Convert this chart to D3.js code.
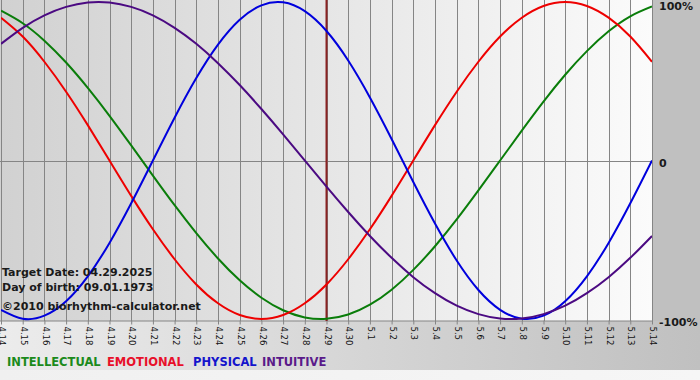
<!DOCTYPE html>
<html>
<head>
<meta charset="utf-8">
<script src="https://cdn.jsdelivr.net/npm/d3@7"></script>
<style>
  html, body { margin: 0; padding: 0; background: #f2f2f2; }
  svg { display: block; }
</style>
</head>
<body>
<svg id="chart" width="700" height="380"></svg>
<script>
// ---- data ----
const dates = ["4.14","4.15","4.16","4.17","4.18","4.19","4.20","4.21","4.22","4.23","4.24","4.25","4.26","4.27","4.28","4.29","4.30",
               "5.1","5.2","5.3","5.4","5.5","5.6","5.7","5.8","5.9","5.10","5.11","5.12","5.13","5.14"];
const intellectual = [94.5,86.6,75.6,61.8,45.8,28.2,9.5,-9.5,-28.2,-45.8,-61.8,-75.6,-86.6,-94.5,-99.0,-99.9,-97.2,
                      -91.0,-81.5,-69.0,-54.1,-37.2,-18.9,0,18.9,37.2,54.1,69.0,81.5,91.0,97.2];
const emotional    = [90.1,78.2,62.3,43.4,22.3,0,-22.3,-43.4,-62.3,-78.2,-90.1,-97.5,-100,-97.5,-90.1,-78.2,-62.3,
                      -43.4,-22.3,0,22.3,43.4,62.3,78.2,90.1,97.5,100,97.5,90.1,78.2,62.3];
const physical     = [-94.2,-99.8,-97.9,-88.8,-73.1,-52.0,-27.0,0,27.0,52.0,73.1,88.8,97.9,99.8,94.2,81.7,63.1,
                      39.8,13.6,-13.6,-39.8,-63.1,-81.7,-94.2,-99.8,-97.9,-88.8,-73.1,-52.0,-27.0,0];
const intuitive    = [73.6,83.7,91.6,96.9,99.7,99.7,96.9,91.6,83.7,73.6,61.4,47.6,32.5,16.5,0,-16.5,-32.5,
                      -47.6,-61.4,-73.6,-83.7,-91.6,-96.9,-99.7,-99.7,-96.9,-91.6,-83.7,-73.6,-61.4,-47.6];
const yTickValues = [100, 0, -100];
const yTickLabels = ["100%", "0", "-100%"];
const targetDay = "4.29";
const infoLines = ["Target Date: 04.29.2025", "Day of birth: 09.01.1973", "\u00a92010 biorhythm-calculator.net"];
const legendNames = ["INTELLECTUAL", "EMOTIONAL", "PHYSICAL", "INTUITIVE"];

// ---- layout ----
const svg = d3.select("#chart");
const W = 700, H = 380;
const plotL = 1, plotR = 652, plotT = 0, plotB = 321;

const x = d3.scalePoint().domain(dates).range([plotL, plotR]).padding(0);
const y = d3.scaleLinear().domain([-100, 100]).range([319, 2]);

const defs = svg.append("defs");
const gPlot = defs.append("linearGradient").attr("id", "gPlot").attr("x1", 0).attr("x2", 1).attr("y1", 0).attr("y2", 0);
gPlot.append("stop").attr("offset", 0).attr("stop-color", "#d1d1d1");
gPlot.append("stop").attr("offset", 1).attr("stop-color", "#fbfbfb");
const gBot = defs.append("linearGradient").attr("id", "gBot").attr("x1", 0).attr("x2", 1).attr("y1", 0).attr("y2", 0);
gBot.append("stop").attr("offset", 0).attr("stop-color", "#ececec");
gBot.append("stop").attr("offset", 1).attr("stop-color", "#c0c0c0");
const gFoot = defs.append("linearGradient").attr("id", "gFoot").attr("x1", 0).attr("x2", 1).attr("y1", 0).attr("y2", 0);
gFoot.append("stop").attr("offset", 0).attr("stop-color", "#f0f0f0");
gFoot.append("stop").attr("offset", 1).attr("stop-color", "#f6f6f6");
defs.append("clipPath").attr("id", "clipPlot").append("rect")
  .attr("x", plotL).attr("y", plotT).attr("width", plotR - plotL).attr("height", plotB - plotT);

// backgrounds
svg.append("rect").attr("x", 0).attr("y", 0).attr("width", W).attr("height", plotB).attr("fill", "#c0c0c0");
svg.append("rect").attr("x", 0).attr("y", plotB).attr("width", W).attr("height", 49).attr("fill", "url(#gBot)");
svg.append("rect").attr("x", 0).attr("y", 370).attr("width", W).attr("height", 10).attr("fill", "url(#gFoot)");
svg.append("rect").attr("x", 0).attr("y", plotT).attr("width", plotR).attr("height", plotB - plotT).attr("fill", "url(#gPlot)");

// vertical gridlines
const px = d => Math.round(x(d)) + 0.5;
svg.append("g").selectAll("line").data(dates).join("line")
  .attr("x1", px).attr("x2", px).attr("y1", plotT).attr("y2", plotB)
  .attr("stroke", "#858585").attr("stroke-width", 1);

// zero line
svg.append("line").attr("x1", 0).attr("x2", plotR + 0.5)
  .attr("y1", Math.round(y(0)) + 0.5).attr("y2", Math.round(y(0)) + 0.5)
  .attr("stroke", "#858585");

// bottom axis
const xAxis = d3.axisBottom(x).tickSizeInner(4).tickSizeOuter(0).tickPadding(2);
const ax = svg.append("g").attr("transform", `translate(0.5,${plotB - 0.5})`).call(xAxis);
ax.select(".domain").attr("stroke", "#858585").attr("d", `M${-1},0.5H${plotR}`);
ax.selectAll(".tick line").attr("stroke", "#858585").attr("transform", "translate(-0.5,0)");
ax.selectAll(".tick text")
  .attr("font-family", "DejaVu Sans, Verdana, sans-serif")
  .attr("font-size", 8.5)
  .attr("fill", "#111")
  .attr("text-anchor", "start")
  .attr("transform", "rotate(90)")
  .attr("x", 6).attr("y", 0).attr("dy", "0.33em");

// target day line
const tx = x(targetDay);
svg.append("line").attr("x1", tx).attr("x2", tx).attr("y1", plotT).attr("y2", plotB)
  .attr("stroke", "#8a2222").attr("stroke-width", 2);

// curves
const line = d3.line().x((v, i) => x(dates[i])).y(v => y(v)).curve(d3.curveNatural);
const series = [
  { name: "INTELLECTUAL", values: intellectual, color: "#0a7d0a" },
  { name: "EMOTIONAL", values: emotional, color: "#ee0000" },
  { name: "PHYSICAL", values: physical, color: "#0000dd" },
  { name: "INTUITIVE", values: intuitive, color: "#4b0a82" }
];
const gCurves = svg.append("g").attr("clip-path", "url(#clipPlot)");
gCurves.selectAll("path").data(series).join("path")
  .attr("d", s => line(s.values))
  .attr("fill", "none")
  .attr("stroke", s => s.color)
  .attr("stroke-width", 2);

// info text
const infoY = [276, 291, 310];
svg.append("g").selectAll("text").data(infoLines).join("text")
  .attr("x", 2).attr("y", (d, i) => infoY[i])
  .attr("font-family", "DejaVu Sans, Verdana, sans-serif")
  .attr("font-weight", "bold").attr("font-size", 11)
  .attr("fill", "#1a1a1a")
  .text(d => d);

// right y labels
const yLabelShift = [8, 6, 7];
svg.append("g").selectAll("text").data(yTickValues).join("text")
  .attr("x", 659).attr("y", (v, i) => y(v) + yLabelShift[i])
  .attr("font-family", "DejaVu Sans, Verdana, sans-serif")
  .attr("font-weight", "bold").attr("font-size", 11)
  .attr("fill", "#1a1a1a")
  .text((v, i) => yTickLabels[i]);

// legend
const legendX = [7, 107, 193, 262];
const legendColors = ["#1b8a1b", "#e8102a", "#1414cc", "#5a1a8a"];
svg.append("g").selectAll("text").data(legendNames).join("text")
  .attr("x", (d, i) => legendX[i]).attr("y", 366)
  .attr("font-family", "DejaVu Sans, Verdana, sans-serif")
  .attr("font-weight", "bold").attr("font-size", 11.5)
  .attr("fill", (d, i) => legendColors[i])
  .text(d => d);
</script>
</body>
</html>
